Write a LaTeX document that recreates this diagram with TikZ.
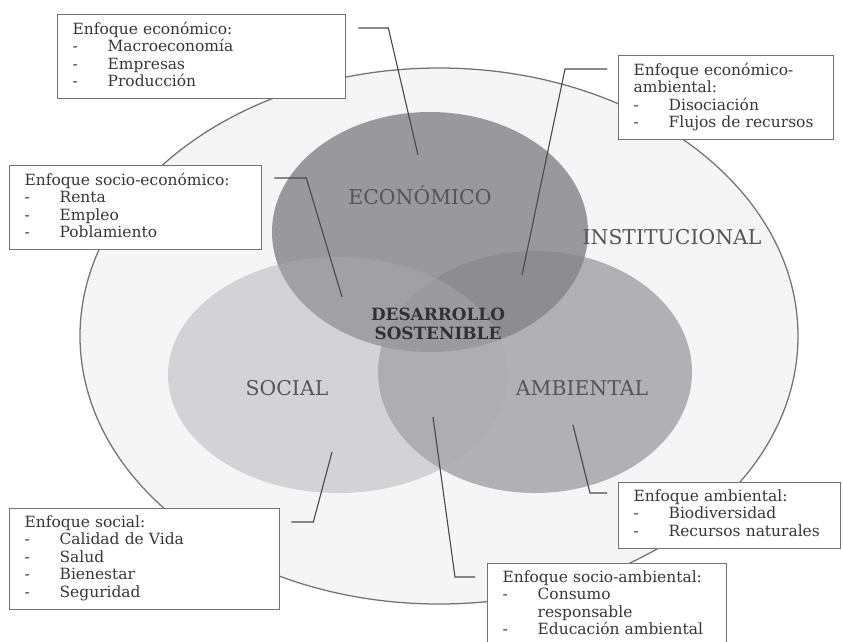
\documentclass[tikz,border=0pt]{standalone}
\usepackage{fontspec}
\setmainfont{DejaVu Serif}
\usepackage{tikz}
\usetikzlibrary{positioning, calc}
\usepackage{xcolor}
\definecolor{instfill}{RGB}{245,245,246}
\definecolor{econfill}{RGB}{152,152,157}
\definecolor{ambfill}{RGB}{133,133,138}
\definecolor{socfill}{RGB}{172,172,176}
\definecolor{rim}{RGB}{115,115,118}
\definecolor{ink}{RGB}{55,55,58}
\newcommand{\itm}[1]{\makebox[0.875cm][l]{-}#1}

\begin{document}
\begin{tikzpicture}[x=0.025cm, y=-0.025cm,
   infobox/.style={draw=rim, line width=0.9pt, fill=white, anchor=north west,
               align=left, inner xsep=0.375cm, inner ysep=5pt, text=ink,
               text width=#1, font=\fontsize{11}{12.45}\selectfont,
               execute at end node=\strut},
   lead/.style={draw=ink!90, line width=0.8pt},
   area/.style={font=\fontsize{14.5}{16}\selectfont, text=ink!85}]
  \useasboundingbox (0,0) rectangle (843,641);

  \fill[instfill, draw=rim, line width=0.9pt] (439,336) ellipse [x radius=359, y radius=268];
  \fill[econfill] (430,232) ellipse [x radius=158, y radius=120];
  \fill[ambfill, fill opacity=0.6] (535,372) ellipse [x radius=157, y radius=121];
  \fill[socfill, fill opacity=0.46] (338,375) ellipse [x radius=170, y radius=118];

  \node[area] (econ) at (420,195) {ECONÓMICO};
  \node[area] (inst) at (672,237) {INSTITUCIONAL};
  \node[area] (soc) at (287,388) {SOCIAL};
  \node[area] (amb) at (582,388) {AMBIENTAL};
  \node[font=\fontsize{12}{13.5}\selectfont\bfseries, text=ink!90!black, align=center]
       (ds) at (438,324) {DESARROLLO\\SOSTENIBLE};

  \node[infobox=6.45cm] (E) at (57,14) {Enfoque económico:\\
        \itm{Macroeconomía}\\ \itm{Empresas}\\ \itm{Producción}};
  \node[infobox=5.55cm] (SE) at (9,165) {Enfoque socio-económico:\\
        \itm{Renta}\\ \itm{Empleo}\\ \itm{Poblamiento}};
  \node[infobox=4.625cm] (EA) at (618,55) {Enfoque económico-\\ambiental:\\
        \itm{Disociación}\\ \itm{Flujos de recursos}};
  \node[infobox=6cm] (S) at (9,508) {Enfoque social:\\
        \itm{Calidad de Vida}\\ \itm{Salud}\\ \itm{Bienestar}\\ \itm{Seguridad}};
  \node[infobox=4.8cm] (A) at (618,482) {Enfoque ambiental:\\
        \itm{Biodiversidad}\\ \itm{Recursos naturales}};
  \node[infobox=5.225cm] (SA) at (487,563) {Enfoque socio-ambiental:\\
        \itm{Consumo}\\ \hspace*{0.875cm}responsable\\ \itm{Educación ambiental}};

  \coordinate (pE) at (418,155);
  \coordinate (pSE) at (342,297);
  \coordinate (pEA) at (522,275);
  \coordinate (pS) at (332,452);
  \coordinate (pA) at (573,425);
  \coordinate (pSA) at (433,417);

  \draw[lead] ([xshift=0.3cm,yshift=-0.35cm]E.north east) -- ++(30,0) -- (pE);
  \draw[lead] ([xshift=0.3cm,yshift=-0.325cm]SE.north east) -- ++(32,0) -- (pSE);
  \draw[lead] ([xshift=-0.275cm,yshift=-0.35cm]EA.north west) -- ++(-42,0) -- (pEA);
  \draw[lead] ([xshift=0.275cm,yshift=-0.35cm]S.north east) -- ++(22,0) -- (pS);
  \draw[lead] ([xshift=-0.275cm,yshift=-0.275cm]A.north west) -- ++(-17,0) -- (pA);
  \draw[lead] ([xshift=-0.3cm,yshift=-0.35cm]SA.north west) -- ++(-20,0) -- (pSA);
\end{tikzpicture}
\end{document}
